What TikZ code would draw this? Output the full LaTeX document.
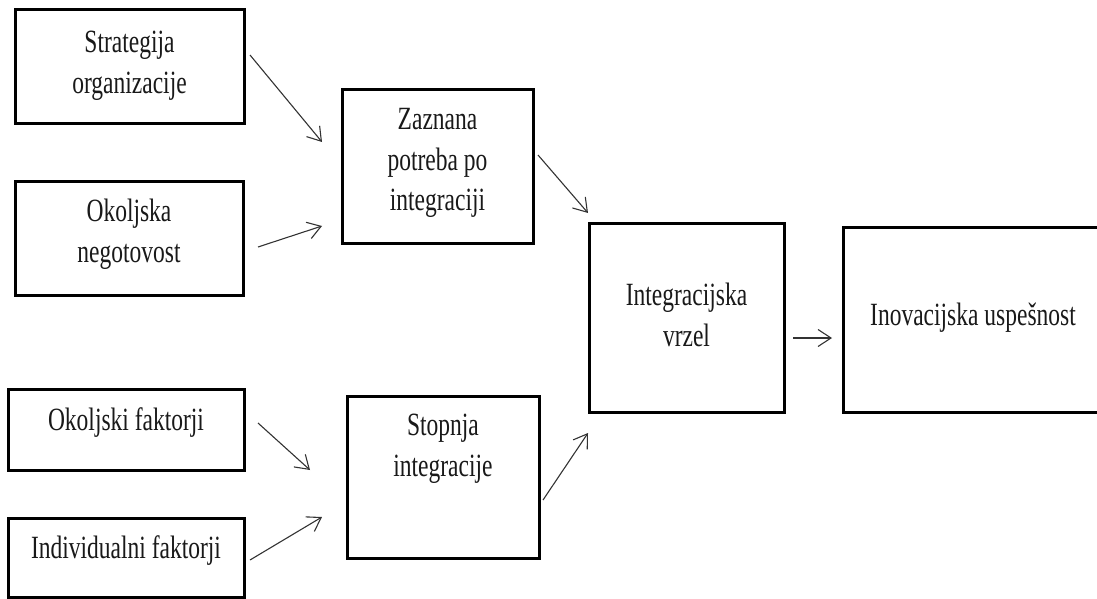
\documentclass[tikz,border=0pt]{standalone}
\usepackage{fontspec}
\setmainfont{Liberation Serif}
\usetikzlibrary{arrows.meta}
\usepackage{graphicx}

% tall, narrow lettering for the box captions
\newcommand\stx[1]{\scalebox{1}[1.38]{\begin{tabular}{@{}c@{}}#1\end{tabular}}}

\begin{document}
\begin{tikzpicture}[x=1pt,y=-1pt,
  box/.style={draw=black, line width=3pt, fill=white, inner sep=0pt},
  lbl/.style={inner sep=0pt, text=black!90, font=\fontsize{23.5}{29}\selectfont},
  arr/.style={draw=black!80, line width=1.1pt, -{Straight Barb[length=13pt,width=17pt]}}]
\useasboundingbox (0,0) rectangle (1097,599);

% boxes (centre, size)
\node[box, minimum width=229pt, minimum height=114pt] (b1) at (129.5,67) {};
\node[box, minimum width=228pt, minimum height=114pt] (b2) at (129,238) {};
\node[box, minimum width=236pt, minimum height=81pt]  (b3) at (126,429.5) {};
\node[box, minimum width=236pt, minimum height=79pt]  (b4) at (126,557.5) {};
\node[box, minimum width=191pt, minimum height=153pt] (zp) at (437.5,166.5) {};
\node[box, minimum width=192pt, minimum height=162pt] (st) at (443,477) {};
\node[box, minimum width=195pt, minimum height=189pt] (iv) at (686.5,317.5) {};
\node[box, minimum width=259pt, minimum height=185pt] (iu) at (972.5,319.5) {};

% captions
\node[lbl] (b1t) at (129.5,65) {\stx{Strategija\\organizacije}};
\node[lbl] (b2t) at (129,234) {\stx{Okoljska\\negotovost}};
\node[lbl] (b3t) at (126,422) {\stx{Okoljski faktorji}};
\node[lbl] (b4t) at (126,550) {\stx{Individualni faktorji}};
\node[lbl] (zpt) at (437.5,162) {\stx{Zaznana\\potreba po\\integraciji}};
\node[lbl] (stt) at (443,448) {\stx{Stopnja\\integracije}};
\node[lbl] (ivt) at (686.5,318) {\stx{Integracijska\\vrzel}};
\node[lbl] (iut) at (973,317) {\stx{Inovacijska uspešnost}};

% arrow end points
\coordinate (a1s) at (250,55);  \coordinate (a1e) at (322,142);
\coordinate (a2s) at (258,247); \coordinate (a2e) at (322,226);
\coordinate (a3s) at (258,423); \coordinate (a3e) at (310,470);
\coordinate (a4s) at (250,560); \coordinate (a4e) at (322,517);
\coordinate (a5s) at (538,155); \coordinate (a5e) at (588,213);
\coordinate (a6s) at (543,500); \coordinate (a6e) at (588,433);
\coordinate (a7s) at (793,338); \coordinate (a7e) at (832,338);

\draw[arr] (a1s) -- (a1e);
\draw[arr] (a2s) -- (a2e);
\draw[arr] (a3s) -- (a3e);
\draw[arr] (a4s) -- (a4e);
\draw[arr] (a5s) -- (a5e);
\draw[arr] (a6s) -- (a6e);
\draw[arr] (a7s) -- (a7e);
\end{tikzpicture}
\end{document}
